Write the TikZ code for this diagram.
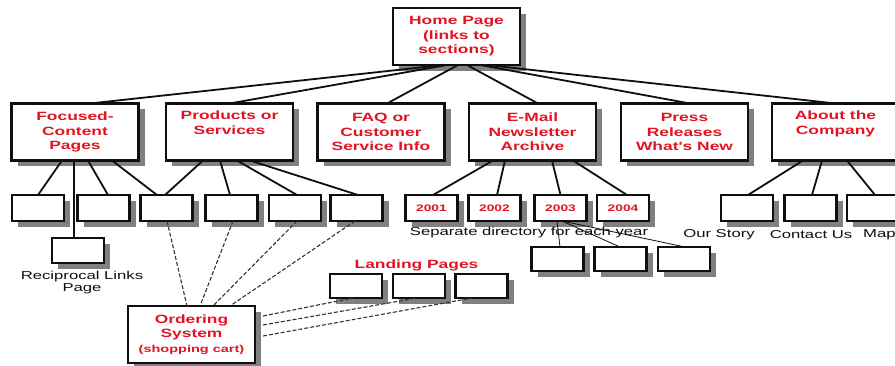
\documentclass[tikz,border=0pt]{standalone}
\usepackage{fontspec}
\newfontfamily\boxfont[FakeStretch=1.45]{Liberation Sans}
\usepackage{tikz}
\usetikzlibrary{shadows, calc}
\definecolor{myred}{RGB}{225,20,35}
\definecolor{mygray}{RGB}{128,128,128}
\definecolor{mydark}{RGB}{15,15,15}
\tikzset{
  bigbox/.style={rectangle, draw=mydark, fill=white, line width=2.2pt,
    minimum width=127pt, minimum height=57pt, inner sep=0pt, outer sep=0pt,
    align=center, text=myred, font={\boxfont\bfseries\fontsize{12pt}{14.5pt}\selectfont},
    drop shadow={shadow xshift=6pt, shadow yshift=-6pt, fill=mygray, opacity=1}},
  smallbox/.style={rectangle, draw=mydark, fill=white, line width=2.2pt,
    minimum width=52pt, minimum height=26pt, inner sep=0pt, outer sep=0pt,
    drop shadow={shadow xshift=6pt, shadow yshift=-6pt, fill=mygray, opacity=1}},
  yearbox/.style={smallbox, text=myred, font={\boxfont\bfseries\fontsize{9.5pt}{11pt}\selectfont}},
  note/.style={inner sep=0pt, align=center, text=mydark,
    font={\boxfont\fontsize{11.5pt}{12pt}\selectfont}},
  title/.style={inner sep=0pt, text=myred,
    font={\boxfont\bfseries\fontsize{12pt}{14.5pt}\selectfont}},
  link/.style={line width=1.8pt, color=mydark},
  thinlink/.style={line width=0.8pt, color=mydark},
  dashlink/.style={line width=1.1pt, color=mydark!85, dash pattern=on 4pt off 2pt}
}

\begin{document}
\begin{tikzpicture}[x=1pt, y=-1pt]
  \useasboundingbox (0,0) rectangle (895,366);
  \clip (0,0) rectangle (895,366);

  \node[bigbox] (home) at (456.5,36.5) {Home Page\\(links to\\sections)};

  \node[bigbox] (focused) at (75,132) {Focused-\\Content\\Pages};
  \node[bigbox] (products) at (229.5,132) {Products or\\Services\\\strut};
  \node[bigbox] (faq) at (381,132) {FAQ or\\Customer\\Service Info};
  \node[bigbox] (newsletter) at (532.5,132) {E-Mail\\Newsletter\\Archive};
  \node[bigbox] (press) at (684.5,132) {Press\\Releases\\What's New};
  \node[bigbox] (about) at (835.5,132) {About the\\Company\\\strut};

  \node[smallbox] (b1) at (38,208) {};
  \node[smallbox] (b2) at (103.5,208) {};
  \node[smallbox] (b3) at (166.5,208) {};
  \node[smallbox] (b4) at (231.5,208) {};
  \node[smallbox] (b5) at (295,208) {};
  \node[smallbox] (b6) at (356.5,208) {};
  \node[yearbox] (y2001) at (431.5,208) {2001};
  \node[yearbox] (y2002) at (494.5,208) {2002};
  \node[yearbox] (y2003) at (560.5,208) {2003};
  \node[yearbox] (y2004) at (623,208) {2004};
  \node[smallbox] (story) at (747,208) {};
  \node[smallbox] (contact) at (810.5,208) {};
  \node[smallbox] (map) at (873,208) {};

  \node[smallbox, minimum height=25pt] (recip) at (78,250.5) {};
  \node[smallbox, minimum height=24pt] (arch1) at (557.5,259) {};
  \node[smallbox, minimum height=24pt] (arch2) at (620.5,259) {};
  \node[smallbox, minimum height=24pt] (arch3) at (684,259) {};
  \node[smallbox, minimum height=24pt] (land1) at (356,286) {};
  \node[smallbox, minimum height=24pt] (land2) at (419,286) {};
  \node[smallbox, minimum height=24pt] (land3) at (481.5,286) {};

  \node[bigbox] (order) at (191.5,334.5)
    {Ordering\\System\\{\fontsize{10pt}{12pt}\selectfont(shopping cart)}};

  \node[note] (reciptxt) at (82,283) {Reciprocal Links\\Page};
  \node[note] (sepdir) at (529,233) {Separate directory for each year};
  \node[note] (storytxt) at (719,235) {Our Story};
  \node[note] (contacttxt) at (811,235) {Contact Us};
  \node[note, anchor=west] (maptxt) at (863,235) {Map};
  \node[title] (landtxt) at (416.5,265) {Landing Pages};

  \draw[link] ([xshift=-13.5pt]home.south) -- ([xshift=15pt]focused.north);
  \draw[link] ([xshift=-9.5pt]home.south) -- (products.north);
  \draw[link] ([xshift=1.5pt]home.south) -- ([xshift=6pt]faq.north);
  \draw[link] ([xshift=10.5pt]home.south) -- ([xshift=5.5pt]newsletter.north);
  \draw[link] ([xshift=23.5pt]home.south) -- ([xshift=5.5pt]press.north);
  \draw[link] ([xshift=30.5pt]home.south) -- (about.north);

  \draw[link] ([xshift=-13pt]focused.south) -- (b1.north);
  \draw[link] ([xshift=-1pt]focused.south) -- ([xshift=-4pt]recip.north);
  \draw[link] ([xshift=13pt]focused.south) -- ([xshift=4.5pt]b2.north);
  \draw[link] ([xshift=37pt]focused.south) -- ([xshift=-9.5pt]b3.north);

  \draw[link] ([xshift=-26.5pt]products.south) -- ([xshift=-1.5pt]b3.north);
  \draw[link] ([xshift=-9.5pt]products.south) -- ([xshift=-1.5pt]b4.north);
  \draw[link] ([xshift=7.5pt]products.south) -- ([xshift=2pt]b5.north);
  \draw[link] ([xshift=20.5pt]products.south) -- ([xshift=1.5pt]b6.north);

  \draw[link] ([xshift=-39.5pt]newsletter.south) -- ([xshift=1.5pt]y2001.north);
  \draw[link] ([xshift=-27.5pt]newsletter.south) -- ([xshift=2.5pt]y2002.north);
  \draw[link] ([xshift=19.5pt]newsletter.south) -- (y2003.north);
  \draw[link] ([xshift=40.5pt]newsletter.south) -- ([xshift=4pt]y2004.north);

  \draw[link] ([xshift=-32.5pt]about.south) -- ([xshift=1pt]story.north);
  \draw[link] ([xshift=-13.5pt]about.south) -- ([xshift=1.5pt]contact.north);
  \draw[link] ([xshift=11.5pt]about.south) -- ([xshift=2pt]map.north);

  \draw[thinlink] ([xshift=-3.5pt]y2003.south) -- ([xshift=2.5pt]arch1.north);
  \draw[thinlink] ([xshift=1.5pt]y2003.south) -- ([xshift=-0.5pt]arch2.north);
  \draw[thinlink] ([xshift=1.5pt]y2003.south) -- ([xshift=1pt]arch3.north);

  \draw[dashlink] ([xshift=0.5pt]b3.south) -- ([xshift=-4.5pt]order.north);
  \draw[dashlink] ([xshift=1.5pt]b4.south) -- ([xshift=8.5pt]order.north);
  \draw[dashlink] ([xshift=2pt]b5.south) -- ([xshift=21.5pt]order.north);
  \draw[dashlink] ([xshift=-1.5pt]b6.south) -- ([xshift=38.5pt]order.north);

  \draw[dashlink] ([xshift=8pt, yshift=18.5pt]order.east) -- ([xshift=-3pt]land1.south);
  \draw[dashlink] ([xshift=8pt, yshift=9.5pt]order.east) -- ([xshift=-2pt]land2.south);
  \draw[dashlink] ([xshift=8pt, yshift=-1.5pt]order.east) -- ([xshift=-9.5pt]land3.south);
\end{tikzpicture}
\end{document}
